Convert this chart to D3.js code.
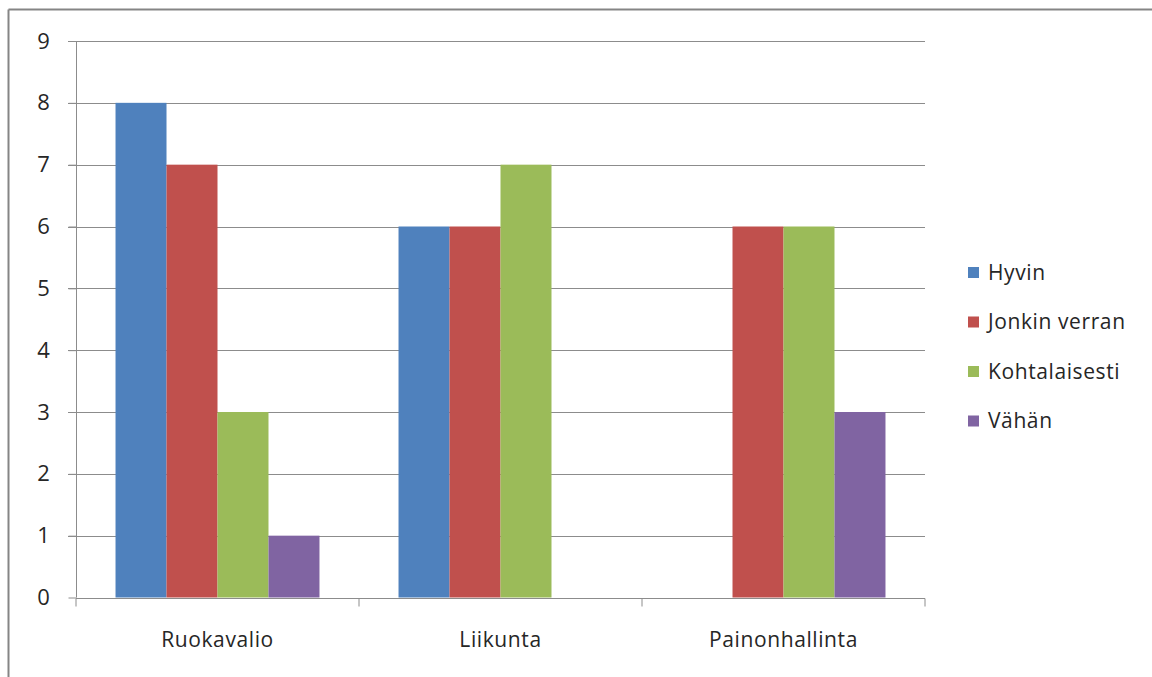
<!DOCTYPE html>
<html>
<head>
<meta charset="utf-8">
<script src="https://cdn.jsdelivr.net/npm/d3@7"></script>
<style>
  body { margin: 0; background: #fff; }
  text { font-family: "Open Sans", sans-serif; fill: #262626; }
</style>
</head>
<body>
<svg></svg>
<script>
let categories = ["Ruokavalio", "Liikunta", "Painonhallinta"];
let seriesNames = ["Hyvin", "Jonkin verran", "Kohtalaisesti", "Vähän"];
let hyvin = [8, 6, 0];
let jonkinVerran = [7, 6, 6];
let kohtalaisesti = [3, 7, 6];
let vahan = [1, 0, 3];
let yTicks = [0, 1, 2, 3, 4, 5, 6, 7, 8, 9];
let colors = ["#4f81bd", "#c0504d", "#9bbb59", "#8064a2"];

let width = 1152;
let height = 677;
let fontSize = 21;

let seriesValues = [hyvin, jonkinVerran, kohtalaisesti, vahan];

let svg = d3.select("svg").attr("width", width).attr("height", height);

// outer frame (only top and left edges are visible)
svg.append("line").attr("x1", 8.5).attr("x2", width).attr("y1", 9.5).attr("y2", 9.5)
  .attr("stroke", "#858585").attr("stroke-width", 2);
svg.append("line").attr("x1", 8.5).attr("x2", 8.5).attr("y1", 9.5).attr("y2", height)
  .attr("stroke", "#858585").attr("stroke-width", 2);

let xScale = d3.scaleBand().domain(categories).range([76, 925]).paddingInner(0).paddingOuter(0);
let yScale = d3.scaleLinear().domain([0, 9]).range([597.5, 41]);

let inner = d3.scaleBand().domain(seriesNames)
  .range([0, xScale.bandwidth()]).paddingOuter(0.775).paddingInner(0);

// gridlines
svg.append("g")
  .selectAll("line")
  .data(yTicks.filter(d => d > 0))
  .enter()
  .append("line")
  .attr("x1", 68)
  .attr("x2", 925)
  .attr("y1", d => Math.round(yScale(d)) + 0.5)
  .attr("y2", d => Math.round(yScale(d)) + 0.5)
  .attr("stroke", "#8c8c8c");

// bars
seriesValues.forEach((vals, i) => {
  svg.append("g")
    .selectAll("rect")
    .data(vals)
    .enter()
    .append("rect")
    .attr("x", (d, j) => xScale(categories[j]) + inner(seriesNames[i]))
    .attr("width", inner.bandwidth())
    .attr("y", d => yScale(d))
    .attr("height", d => yScale(0) - yScale(d))
    .attr("fill", colors[i]);
});

// y axis
let yAxis = d3.axisLeft(yScale).tickValues(yTicks).tickSize(8).tickPadding(20).tickFormat(d3.format("d"));
let yG = svg.append("g").attr("transform", "translate(76.5,0)").call(yAxis);
yG.select(".domain").attr("stroke", "#8c8c8c").attr("d", "M0," + yScale(9) + "V" + yScale(0));
yG.selectAll(".tick line").attr("stroke", "#8c8c8c");
yG.selectAll(".tick text").attr("font-size", fontSize + 1).attr("font-family", "Open Sans").attr("fill", "#262626")
  .attr("text-anchor", "middle").attr("dx", -5);

// x axis
let xAxis = d3.axisBottom(xScale).tickSize(0).tickPadding(34);
let xG = svg.append("g").attr("transform", "translate(0," + (Math.round(yScale(0)) + 0.5) + ")").call(xAxis);
xG.select(".domain").attr("stroke", "#8c8c8c").attr("d", "M76,0H925");
xG.selectAll(".tick text").attr("font-size", fontSize).attr("font-family", "Open Sans").attr("fill", "#262626")
  .attr("letter-spacing", 0.6);
xG.selectAll(".sep")
  .data([categories[0], categories[1], categories[2], null])
  .enter()
  .append("line")
  .attr("class", "sep")
  .attr("x1", d => d === null ? 925 : xScale(d))
  .attr("x2", d => d === null ? 925 : xScale(d))
  .attr("y1", 0)
  .attr("y2", 8)
  .attr("stroke", "#8c8c8c");

// legend
let legend = svg.append("g").attr("transform", "translate(968,272)");
let rows = legend.selectAll("g").data(seriesNames).enter().append("g")
  .attr("transform", (d, i) => "translate(0," + i * 49.5 + ")");
rows.append("rect").attr("x", 0).attr("y", -5).attr("width", 11).attr("height", 11)
  .attr("fill", (d, i) => colors[i]);
rows.append("text").attr("x", 20).attr("y", 0).attr("dy", "0.36em")
  .attr("font-size", fontSize).attr("letter-spacing", 0.6).text(d => d);
</script>
</body>
</html>
